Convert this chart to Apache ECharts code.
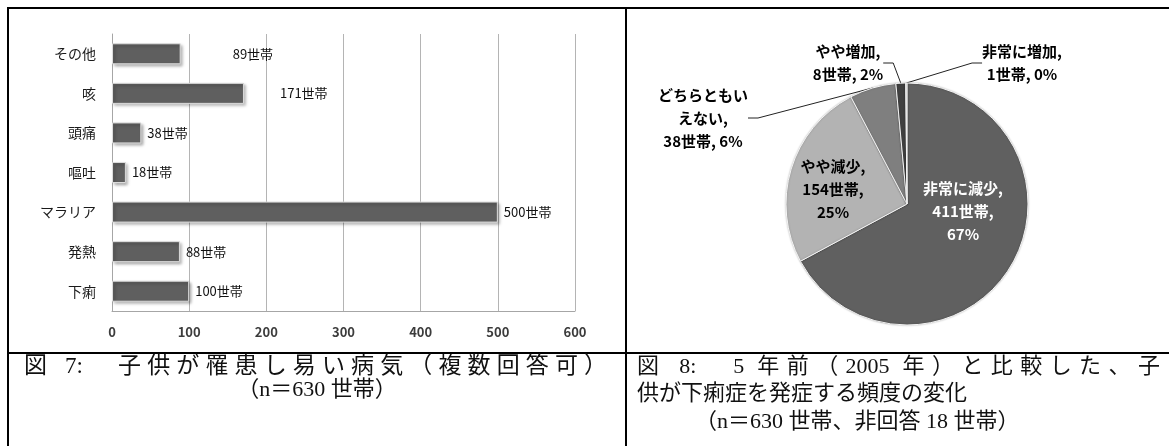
<!DOCTYPE html>
<html>
<head>
<meta charset="utf-8">
<script src="https://cdn.jsdelivr.net/npm/echarts@6/dist/echarts.min.js"></script>
<style>
  html, body { margin: 0; padding: 0; background: #fff; }
  #chart { position: absolute; left: 0; top: 0; width: 1169px; height: 446px; }
  .cap {
    position: absolute;
    font-family: "Liberation Serif", "Noto Sans CJK JP", serif;
    font-size: 22px;
    line-height: 26px;
    color: #111;
    white-space: nowrap;
  }
  .just { text-align: justify; text-align-last: justify; }
</style>
</head>
<body>
<div id="chart"></div>
<div class="cap just" style="left:24px; top:353px; width:583px; font-size:23px;">図 7:　子供が罹患し易い病気（複数回答可）</div>
<div class="cap" style="left:8px; top:376px; width:618px; text-align:center;">（n＝630 世帯）</div>
<div class="cap just" style="left:637px; top:353px; width:523px;">図 8:　5 年前（2005 年）と比較した、子</div>
<div class="cap" style="left:637px; top:380px;">供が下痢症を発症する頻度の変化</div>
<div class="cap" style="left:695px; top:408px;">（n＝630 世帯、非回答 18 世帯）</div>
<script>
// 図7 子供が罹患し易い病気（下から上の順）
const diseaseNames = ["下痢", "発熱", "マラリア", "嘔吐", "頭痛", "咳", "その他"];
const diseaseCounts = [100, 88, 500, 18, 38, 171, 89];
const xTicks = [0, 100, 200, 300, 400, 500, 600];

// 図8 下痢症の頻度の変化
const changeNames = ["非常に減少", "やや減少", "どちらともいえない", "やや増加", "非常に増加"];
const changeCounts = [411, 154, 38, 8, 1];

const FONT = '"Noto Sans CJK JP", sans-serif';

const myChart = echarts.init(document.getElementById("chart"));

// 値ラベルが右にずれているもの
const labelShift = { "その他": 46, "咳": 30 };
const barData = diseaseCounts.map((v, i) => {
  const item = { value: v };
  if (labelShift[diseaseNames[i]]) {
    item.label = { offset: [labelShift[diseaseNames[i]], 0] };
  }
  return item;
});

// 円グラフの色・ラベル
const sliceColors = ["#606060", "#b3b3b3", "#7f7f7f", "#404040", "#d6d6d6"];
const insideSlices = [0, 1];
const pieLabelPos = [
  { x: 963, y: 211 },
  { x: 833, y: 189 },
  { x: 703, y: 118 },
  { x: 848, y: 63 },
  { x: 1022, y: 63 }
];

const pieData = changeNames.map((name, i) => {
  const inside = insideSlices.indexOf(i) >= 0;
  return {
    name: name,
    value: changeCounts[i],
    itemStyle: { color: sliceColors[i] },
    label: {
      position: inside ? "inside" : "outside",
      color: i === 0 ? "#fff" : "#000"
    },
    labelLine: { show: !inside }
  };
});

const option = {
  animation: false,
  graphic: [
    { type: "rect", shape: { x: 7, y: 7, width: 1162, height: 2 }, style: { fill: "#000" } },
    { type: "rect", shape: { x: 7, y: 7, width: 2, height: 439 }, style: { fill: "#000" } },
    { type: "rect", shape: { x: 625, y: 7, width: 2, height: 439 }, style: { fill: "#000" } },
    { type: "rect", shape: { x: 7, y: 352, width: 1162, height: 2 }, style: { fill: "#000" } }
  ],
  grid: {
    left: 112,
    top: 34,
    width: 463,
    height: 277,
    containLabel: false
  },
  xAxis: {
    type: "value",
    min: xTicks[0],
    max: xTicks[xTicks.length - 1],
    interval: xTicks[1] - xTicks[0],
    axisLine: { show: true, lineStyle: { color: "#a6a6a6", width: 1 } },
    axisTick: { show: false },
    axisLabel: {
      margin: 15,
      color: "#3c3c3c",
      fontSize: 13,
      fontWeight: "bold",
      fontFamily: FONT
    },
    splitLine: { show: true, lineStyle: { color: "#b4b4b4", width: 1 } }
  },
  yAxis: {
    type: "category",
    data: diseaseNames,
    axisLine: { show: true, lineStyle: { color: "#a6a6a6", width: 1 } },
    axisTick: { show: false },
    axisLabel: {
      margin: 16,
      color: "#1a1a1a",
      fontSize: 14,
      fontFamily: FONT
    }
  },
  series: [
    {
      type: "bar",
      data: barData,
      barWidth: 21,
      itemStyle: {
        color: "#5f5f5f",
        borderColor: "#dcdcdc",
        borderWidth: 1,
        shadowBlur: 3,
        shadowOffsetX: 2,
        shadowOffsetY: 2,
        shadowColor: "rgba(0,0,0,0.35)"
      },
      label: {
        show: true,
        position: "right",
        distance: 6,
        formatter: "{c}世帯",
        color: "#111",
        fontSize: 13,
        fontFamily: FONT
      }
    },
    {
      type: "pie",
      center: [907, 204],
      radius: 121,
      startAngle: 90,
      clockwise: true,
      percentPrecision: 0,
      data: pieData,
      itemStyle: {
        borderColor: "#f4f4f4",
        borderWidth: 1,
        shadowBlur: 2,
        shadowColor: "rgba(0,0,0,0.25)"
      },
      label: {
        fontSize: 15,
        fontWeight: "bold",
        lineHeight: 23,
        fontFamily: FONT,
        align: "center",
        formatter: function (p) {
          if (insideSlices.indexOf(p.dataIndex) >= 0) {
            return p.name + ",\n" + p.value + "世帯,\n" + p.percent + "%";
          }
          const n = p.name.length > 6 ? p.name.slice(0, 6) + "\n" + p.name.slice(6) : p.name;
          return n + ",\n" + p.value + "世帯, " + p.percent + "%";
        }
      },
      labelLine: {
        length: 10,
        length2: 10,
        lineStyle: { color: "#222", width: 1 }
      },
      labelLayout: function (params) {
        const pos = pieLabelPos[params.dataIndex];
        return { x: pos.x, y: pos.y, align: "center", verticalAlign: "middle" };
      }
    }
  ]
};

option && myChart.setOption(option);
</script>
</body>
</html>
